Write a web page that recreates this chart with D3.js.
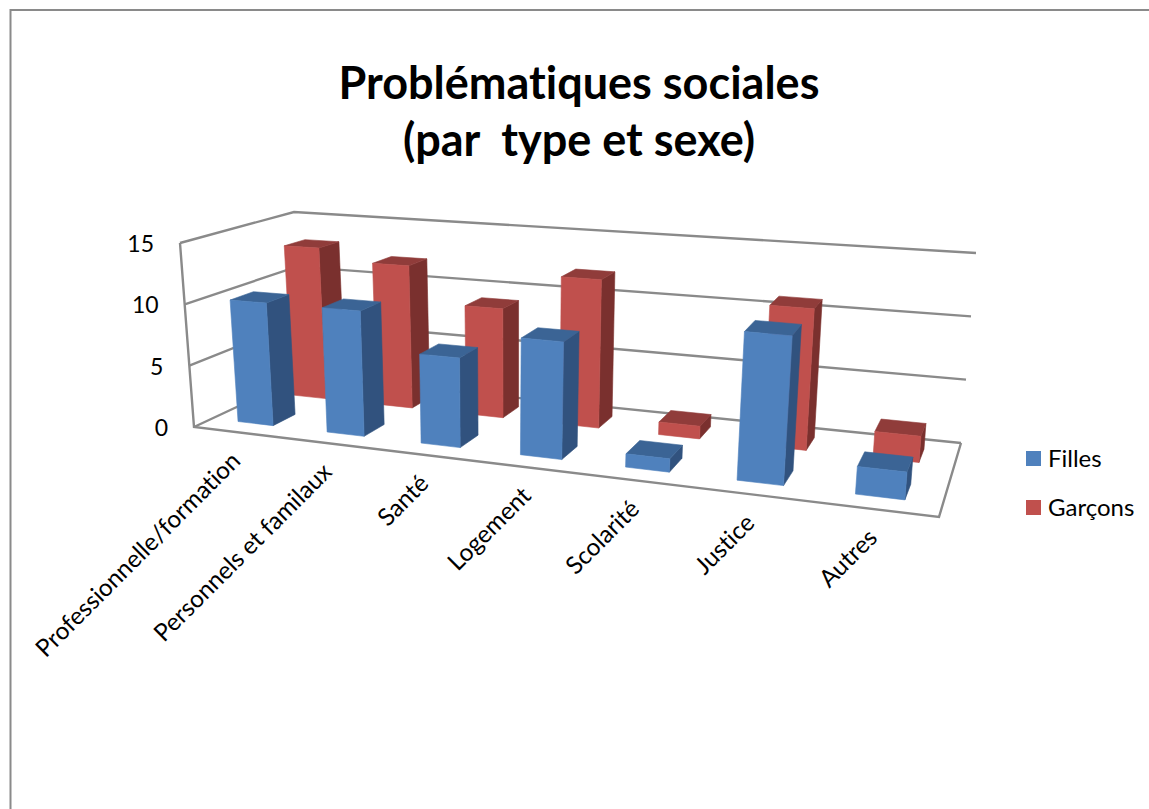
<!DOCTYPE html>
<html><head><meta charset="utf-8">
<script src="https://cdn.jsdelivr.net/npm/d3@7/dist/d3.min.js"></script>
<style>html,body{margin:0;padding:0;background:#fff}svg{display:block}text{font-family:Lato,"Open Sans",sans-serif;fill:#000;white-space:pre;font-variant-ligatures:none;font-feature-settings:"liga" 0}</style>
</head><body><svg id="c" width="1149" height="809"></svg>
<script>
const titleLines = ["Problématiques sociales", "(par  type et sexe)"];
const categories = ["Professionnelle/formation","Personnels et familaux","Santé","Logement","Scolarité","Justice","Autres"];
const seriesNames = ["Filles","Garçons"];
const filles = [10,10,7,9,1,11,2];
const garcons = [13,12,9,12,1,11,2];
const yTicks = [0,5,10,15];

const floorQuad = [[194,427],[939,517],[961,443],[303,376]];
const topQuad   = [[180,243],[957,304],[976,253],[294,212]];
function homography(q){
  const [[x0,y0],[x1,y1],[x2,y2],[x3,y3]] = q;
  const dx1=x1-x2,dx2=x3-x2,sx=x0-x1+x2-x3,dy1=y1-y2,dy2=y3-y2,sy=y0-y1+y2-y3;
  const den=dx1*dy2-dx2*dy1,g=(sx*dy2-dx2*sy)/den,h=(dx1*sy-sx*dy1)/den;
  const a=x1-x0+g*x1,b=x3-x0+h*x3,d=y1-y0+g*y1,e=y3-y0+h*y3;
  return (u,v)=>{const w=g*u+h*v+1;return [(a*u+b*v+x0)/w,(d*u+e*v+y0)/w];};
}
const hFloor=homography(floorQuad);
const rise=floorQuad.map((p,i)=>[topQuad[i][0]-p[0],topQuad[i][1]-p[1]]);
function riseAt(u,v,k){
  return (1-v)*((1-u)*rise[0][k]+u*rise[1][k])+v*((1-u)*rise[3][k]+u*rise[2][k]);
}
const x = d3.scaleBand().domain(categories).range([0,1]).paddingInner(0.6).paddingOuter(0.3);
const z = d3.scaleBand().domain(seriesNames).range([0,1]).paddingInner(0.6).paddingOuter(0.3);
const y = d3.scaleLinear().domain([0,15]).range([0,1]);
function P(u,v,val){const a=hFloor(u,v),t=y(val);return [a[0]+riseAt(u,v,0)*t,a[1]+riseAt(u,v,1)*t];}

const svg=d3.select("#c");
const line=d3.line();
const GRID="#8a8a8a";
// page frame
svg.append("path").attr("d",line([[10.5,809],[10.5,10],[1149,10]])).attr("fill","none").attr("stroke",GRID).attr("stroke-width",2);
// title
svg.selectAll("text.t").data(titleLines).join("text").attr("class","t")
  .attr("x",579).attr("y",(d,i)=>99+i*57).attr("text-anchor","middle")
  .attr("font-size",45).attr("font-weight",700).text(d=>d);
// walls
const walls=svg.append("g").attr("fill","none").attr("stroke",GRID).attr("stroke-width",2.4);
yTicks.forEach(t=>{
  walls.append("path").attr("d",line([P(0,0,t),P(0,1,t),P(1,1,t)]));
});
walls.append("path").attr("d",line([P(0,0,15),P(0,0,0),P(1,0,0),P(1,1,0)]));
// y tick labels
svg.selectAll("text.yt").data(yTicks).join("text").attr("class","yt")
  .attr("x",t=>P(0,0,t)[0]-26).attr("y",t=>P(0,0,t)[1]+9).attr("text-anchor","end")
  .attr("font-size",23).text(d=>d);
// bars
const colors={Filles:{front:"#4F81BD",side:"#31527E",top:"#3B6495"},Garçons:{front:"#C0504D",side:"#7A302E",top:"#903C3A"}};
const rows=[["Garçons",garcons],["Filles",filles]];
function face(g,col,pts){
  g.append("path").attr("fill",col).attr("stroke",col).attr("stroke-width",0.6).attr("stroke-linejoin","round").attr("d",line(pts)+"Z");
}
rows.forEach(([name,vals])=>{
  const g=svg.append("g").attr("class","series");
  const c=colors[name], v0=z(name), v1=v0+z.bandwidth(), w=x.bandwidth();
  categories.forEach((cat,i)=>{
    const u0=x(cat),u1=u0+w,val=vals[i];
    face(g,c.side,[P(u1,v0,0),P(u1,v1,0),P(u1,v1,val),P(u1,v0,val)]);
    face(g,c.top,[P(u0,v0,val),P(u1,v0,val),P(u1,v1,val),P(u0,v1,val)]);
    face(g,c.front,[P(u0,v0,0),P(u1,v0,0),P(u1,v0,val),P(u0,v0,val)]);
  });
});
// category labels
svg.selectAll("text.xl").data(categories).join("text").attr("class","xl")
  .attr("transform",d=>{const p=P(x(d)+x.bandwidth()/2,0,0);return `translate(${p[0]+4},${p[1]+30}) rotate(-45)`;})
  .attr("text-anchor","end").attr("font-size",24.3).text(d=>d);
// legend
const lg=svg.selectAll("g.l").data(seriesNames).join("g").attr("class","l").attr("transform",(d,i)=>`translate(1026,${451+i*49})`);
lg.append("rect").attr("width",15).attr("height",15).attr("fill",d=>colors[d].front);
lg.append("text").attr("x",22).attr("y",16).attr("font-size",24).text(d=>d);
</script></body></html>
